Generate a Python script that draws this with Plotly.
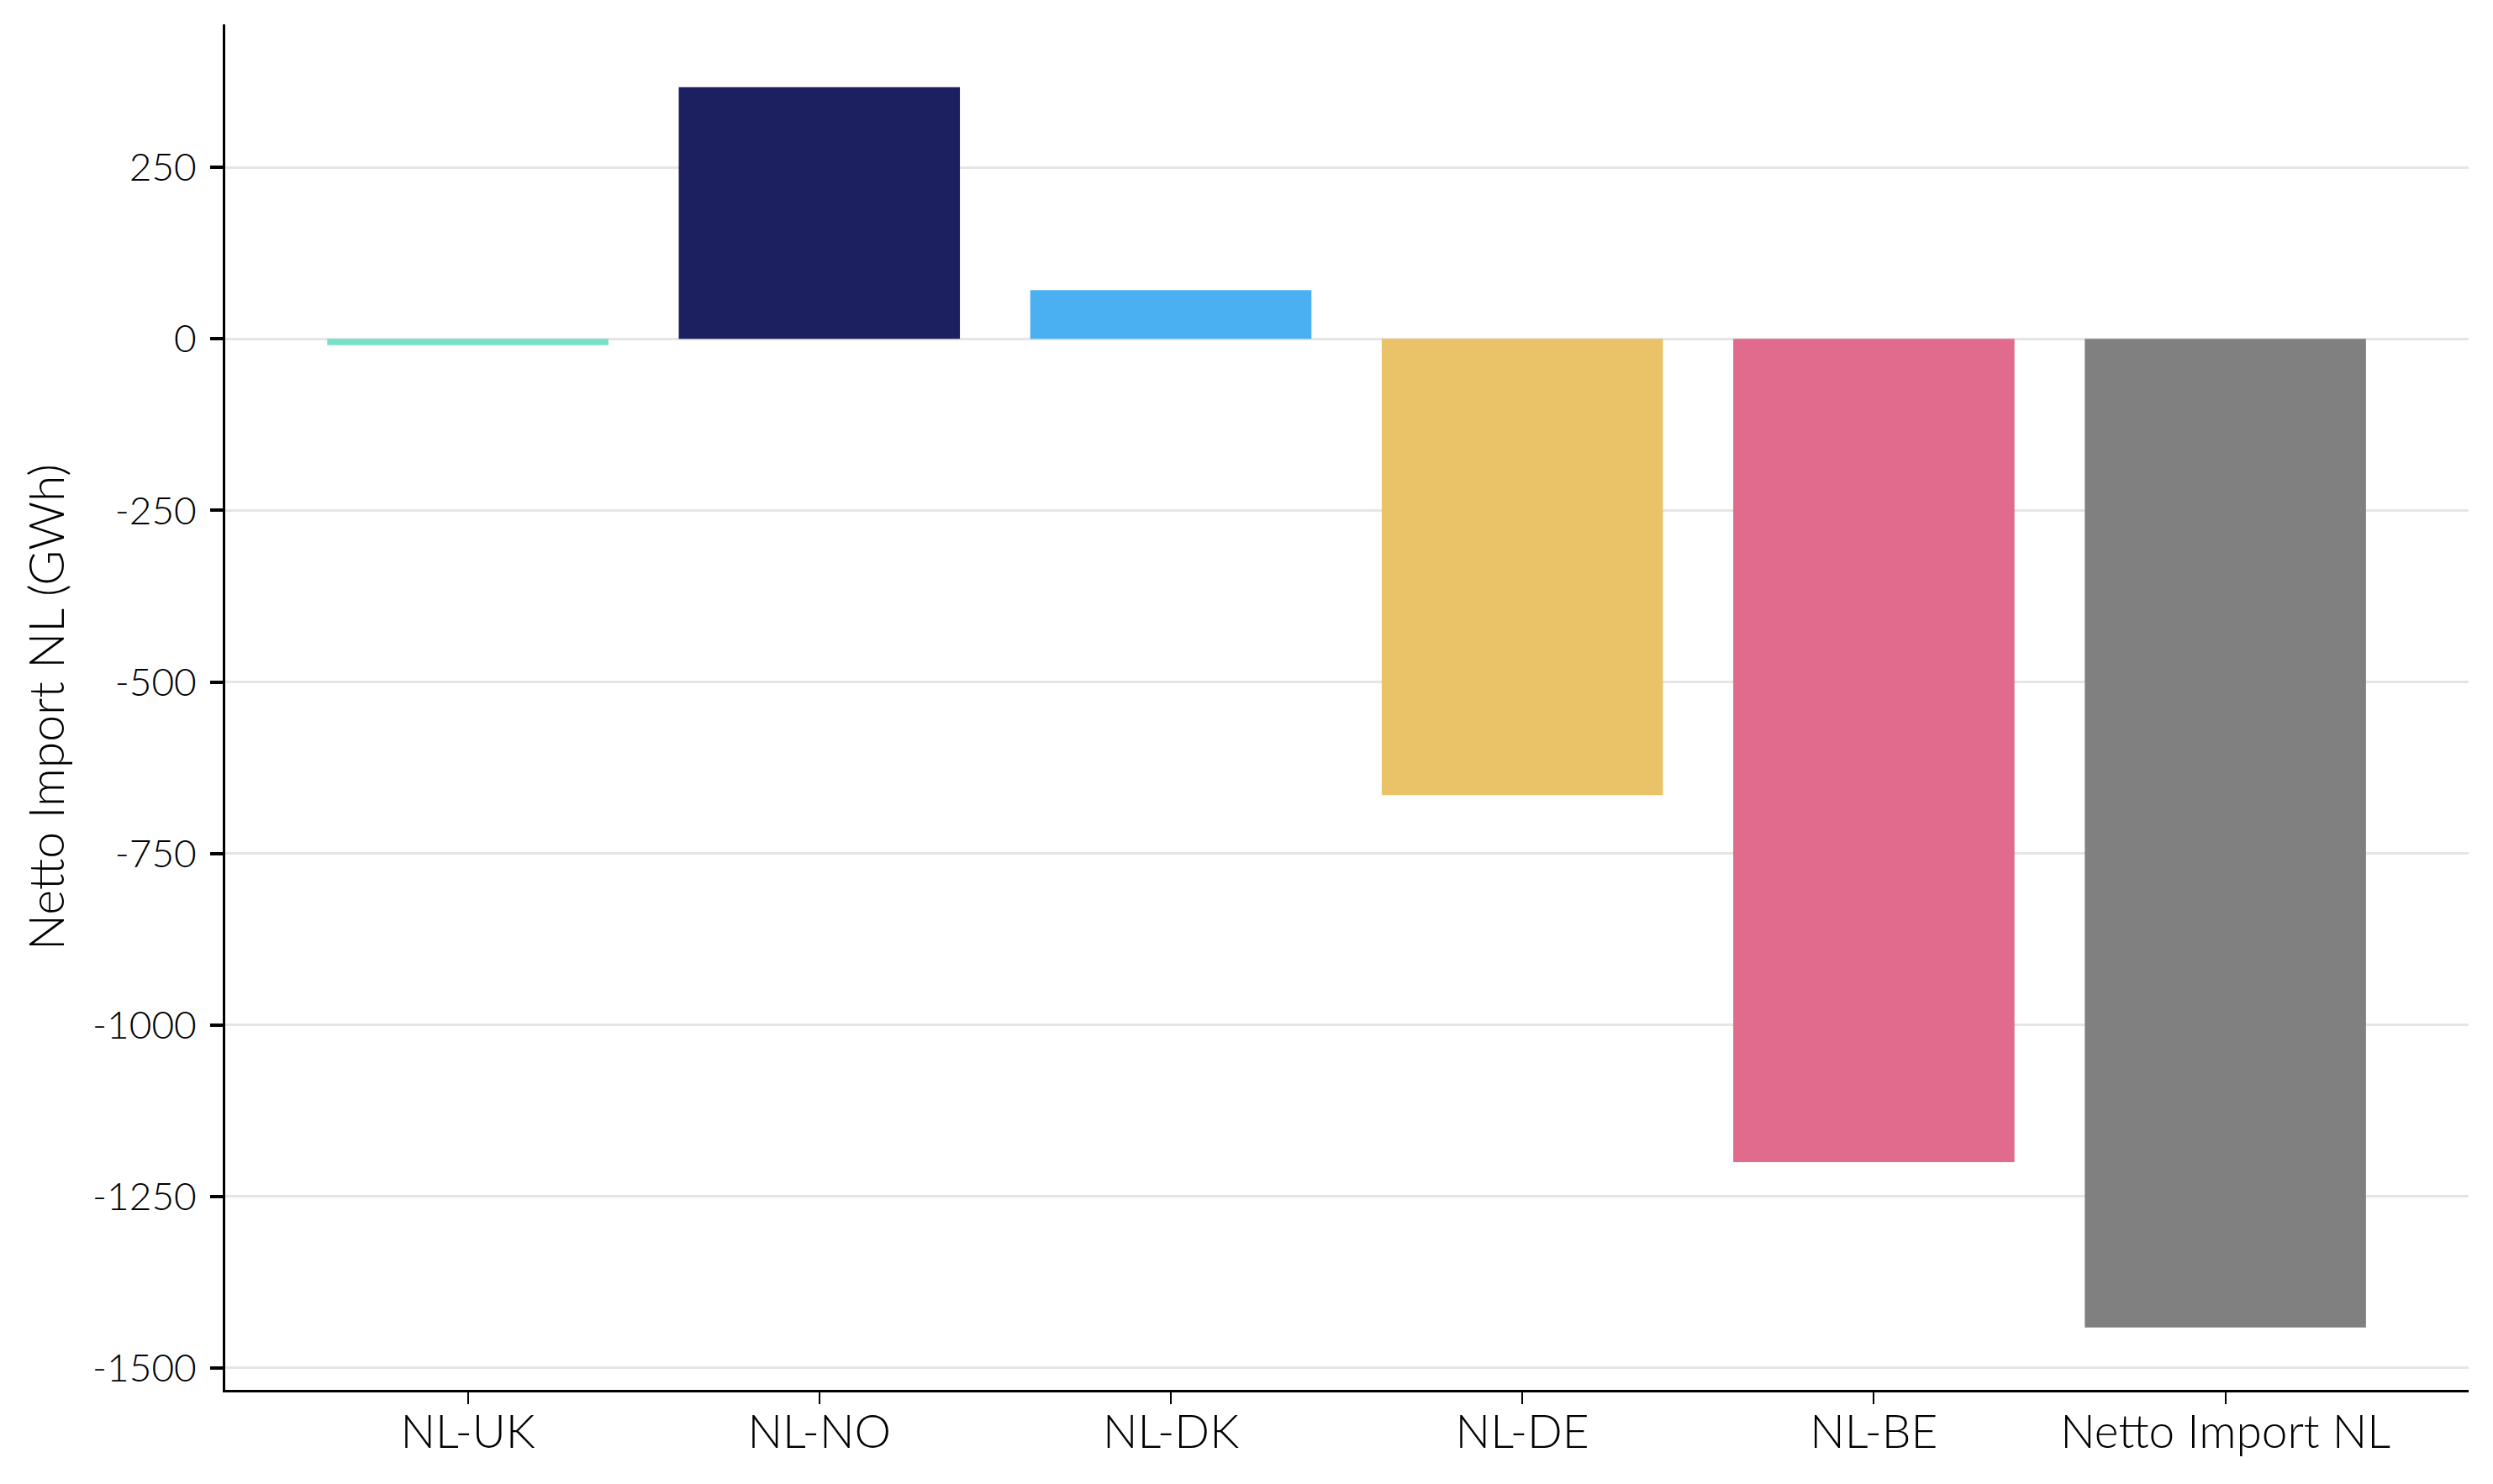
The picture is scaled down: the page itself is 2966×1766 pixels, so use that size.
import plotly.graph_objects as go

categories = ["NL-UK", "NL-NO", "NL-DK", "NL-DE", "NL-BE", "Netto Import NL"]
values = [-9, 367, 71, -665, -1200, -1441]
colors = ["#77E0C7", "#1C2060", "#4BB0F2", "#EAC268", "#E06B8C", "#808080"]
y_ticks = [-1500, -1250, -1000, -750, -500, -250, 0, 250]
y_title = "Netto Import NL (GWh)"

FONT = "Lato, 'Open Sans', sans-serif"

fig = go.Figure()
fig.add_trace(go.Bar(
    x=categories,
    y=values,
    marker=dict(color=colors, line=dict(width=0)),
    width=0.8,
    showlegend=False,
))

# page body has an 8px default margin; offset margins to compensate
fig.update_layout(
    width=2966,
    height=1766,
    margin=dict(l=260, r=37, t=21, b=120, autoexpand=False),
    paper_bgcolor="white",
    plot_bgcolor="white",
    font=dict(family=FONT, size=54, color="black", weight=300),
    bargap=0.2,
)

fig.update_xaxes(
    type="category",
    range=[-0.690, 5.692],
    showgrid=False,
    showline=True,
    linecolor="black",
    linewidth=3,
    ticks="outside",
    ticklen=14,
    tickwidth=2,
    tickcolor="black",
    tickfont=dict(family=FONT, size=55, color="black", weight=300),
    ticklabelstandoff=-14,
    zeroline=False,
    automargin=False,
    fixedrange=True,
)

fig.update_yaxes(
    range=[-1532, 458.5],
    tickmode="array",
    tickvals=y_ticks,
    ticktext=[str(v) for v in y_ticks],
    showgrid=True,
    gridcolor="#E5E5E5",
    gridwidth=2.5,
    showline=True,
    linecolor="black",
    linewidth=3,
    ticks="outside",
    ticklen=15,
    tickwidth=3.5,
    tickcolor="black",
    tickfont=dict(family=FONT, size=46, color="black", weight=300),
    ticklabelstandoff=7,
    zeroline=False,
    title=dict(text=y_title, font=dict(family=FONT, size=57, color="black", weight=300), standoff=16),
    automargin=False,
    fixedrange=True,
)

fig.write_html("out.html")
